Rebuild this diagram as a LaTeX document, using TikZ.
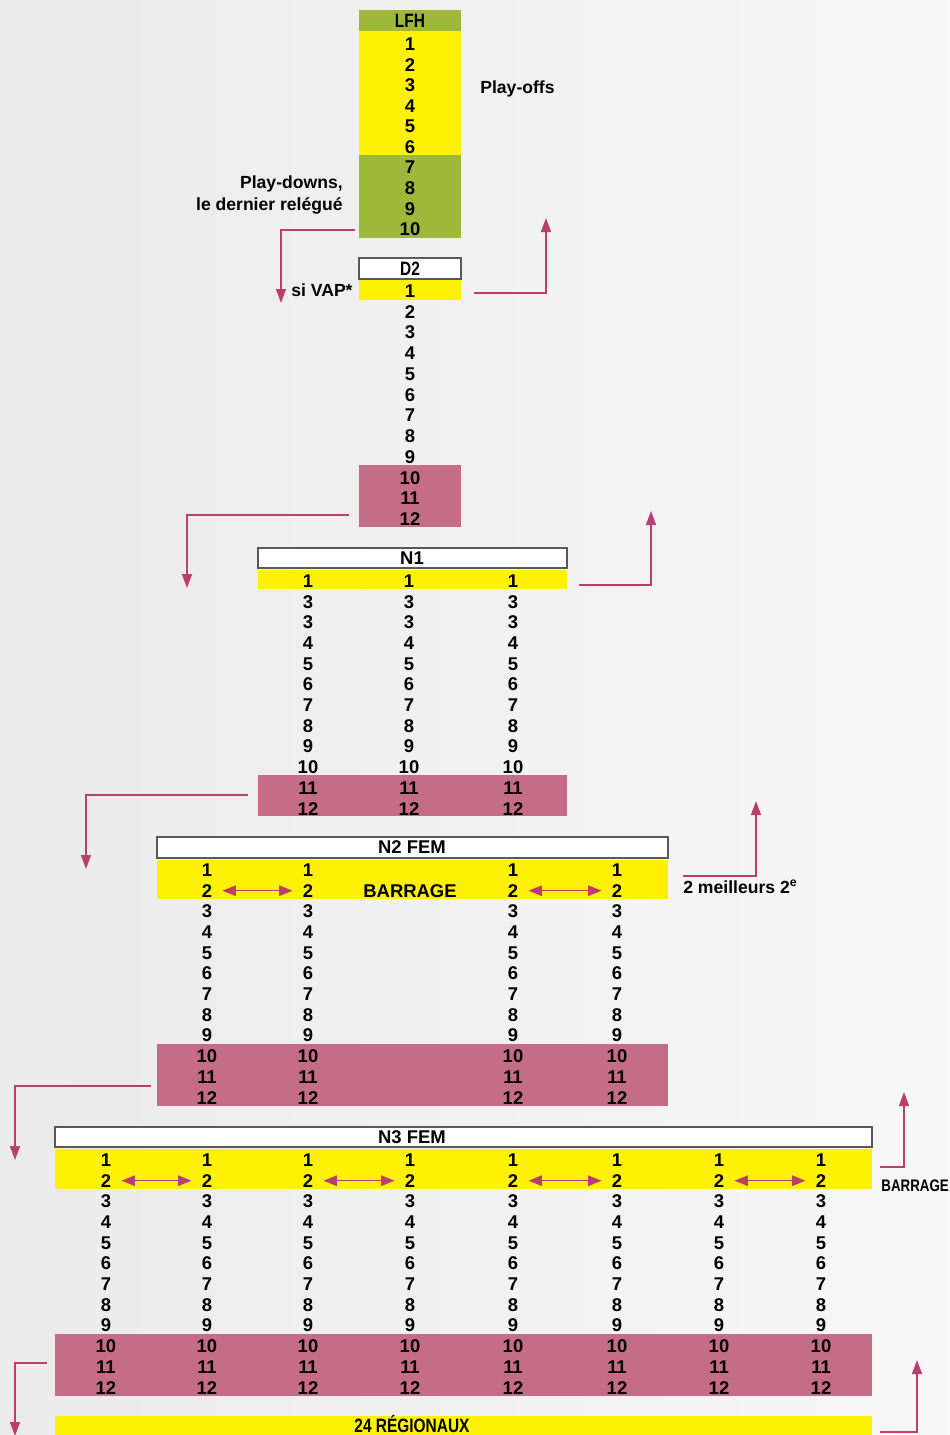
\documentclass[tikz,border=0pt]{standalone}
\usepackage{fontspec}
\setmainfont{Liberation Sans}
\newfontfamily\narrowfont[FakeStretch=0.8]{Liberation Sans}
\usetikzlibrary{arrows.meta}
\definecolor{lfhgreen}{RGB}{158,184,58}
\definecolor{rowyellow}{RGB}{255,242,0}
\definecolor{rowpink}{RGB}{197,108,134}
\definecolor{linkpink}{RGB}{186,62,112}
\tikzset{
  num/.style={font=\fontsize{10.5}{12}\selectfont\bfseries, inner sep=0pt},
  narrow/.style={font=\fontsize{11}{12}\selectfont\narrowfont\bfseries},
  note/.style={font=\fontsize{10}{12}\selectfont\bfseries, inner sep=0pt},
  headbox/.style={draw=black!65, fill=white, line width=0.6pt},
  move/.style={draw=linkpink, line width=0.8pt, -{Triangle[length=2.8mm, width=2mm]}},
  swap/.style={draw=linkpink, line width=0.8pt, {Triangle[length=2.7mm, width=2.1mm]}-{Triangle[length=2.7mm, width=2.1mm]}, shorten <=2mm, shorten >=2mm},
}
\begin{document}
\begin{tikzpicture}[x=0.2mm, y=-0.2mm]
    \shade[left color=black!8, right color=black!3] (0,0) rectangle (949,1435);
    \useasboundingbox (0,0) rectangle (949,1435);

    % LFH
    \fill[lfhgreen] (359,10) rectangle (461,31);
    \fill[rowyellow] (359,31) rectangle (461,155);
    \fill[lfhgreen] (359,155) rectangle (461,238);
    \node[num, narrow] (lfh) at (410,21) {LFH};
    \foreach \r in {1,...,10}
        \node[num] (lfh-\r) at (410,{44+(\r-1)*20.6}) {\r};
    \node[note, anchor=base west] (playoffs) at (480,93) {Play-offs};
    \node[note, anchor=base east, align=right] (playdowns) at (343,210) {Play-downs,\\le dernier relégué};

    % D2
    \draw[headbox] (359,258) rectangle (461,279);
    \fill[rowyellow] (359,280) rectangle (461,300);
    \fill[rowpink] (359,465) rectangle (461,527);
    \node[num, narrow] (d2) at (410,269) {D2};
    \foreach \r in {1,...,12}
        \node[num] (d2-\r) at (410,{291+(\r-1)*20.75}) {\r};
    \node[note, anchor=base west] (vap) at (291,296) {si VAP*};

    % N1
    \draw[headbox] (258,548) rectangle (567,568);
    \fill[rowyellow] (258,570) rectangle (567,589);
    \fill[rowpink] (258,775) rectangle (567,816);
    \node[num] (n1) at (412,558) {N1};
    \foreach \c [count=\j] in {308,409,513}
        \foreach \v [count=\r] in {1,3,3,4,5,6,7,8,9,10,11,12}
            \node[num] (n1-\j-\r) at (\c,{581+(\r-1)*20.7}) {\v};

    % N2 FEM
    \draw[headbox] (157,837) rectangle (668,858);
    \fill[rowyellow] (157,860) rectangle (668,899);
    \fill[rowpink] (157,1044) rectangle (668,1106);
    \node[num] (n2) at (412,847) {N2 FEM};
    \foreach \c [count=\j] in {207,308,513,617}
        \foreach \r in {1,...,12}
            \node[num] (n2-\j-\r) at (\c,{870+(\r-1)*20.7}) {\r};
    \node[num] (n2-barrage) at (410,891) {BARRAGE};
    \draw[swap] (n2-1-2) -- (n2-2-2);
    \draw[swap] (n2-3-2) -- (n2-4-2);
    \node[note, anchor=base west] (best) at (683,893) {2 meilleurs 2\textsuperscript{e}};

    % N3 FEM
    \draw[headbox] (55,1127) rectangle (872,1147);
    \fill[rowyellow] (55,1149) rectangle (872,1189);
    \fill[rowpink] (55,1334) rectangle (872,1396);
    \node[num] (n3) at (412,1137) {N3 FEM};
    \foreach \c [count=\j] in {106,207,308,410,513,617,719,821}
        \foreach \r in {1,...,12}
            \node[num] (n3-\j-\r) at (\c,{1160+(\r-1)*20.7}) {\r};
    \foreach \a/\b in {1/2,3/4,5/6,7/8}
        \draw[swap] (n3-\a-2) -- (n3-\b-2);
    \node[anchor=base west, inner sep=0pt, font=\fontsize{9.5}{11}\selectfont\narrowfont\bfseries] (n3-barrage) at (881,1191) {BARRAGE};

    % regionaux
    \fill[rowyellow] (55,1416) rectangle (872,1445);
    \node[num, narrow] (reg) at (412,1424) {24 RÉGIONAUX};

    % montees et descentes
    \coordinate (lfh-from) at (355,230);  \coordinate (lfh-to) at (281,303);
    \coordinate (d2-up)    at (474,293);  \coordinate (d2-upto) at (546,218);
    \coordinate (d2-from)  at (349,515);  \coordinate (d2-to)  at (187,588);
    \coordinate (n1-up)    at (579,585);  \coordinate (n1-upto) at (651,511);
    \coordinate (n1-from)  at (248,795);  \coordinate (n1-to)  at (86,869);
    \coordinate (n2-up)    at (683,876);  \coordinate (n2-upto) at (756,801);
    \coordinate (n2-from)  at (151,1086); \coordinate (n2-to)  at (15,1160);
    \coordinate (n3-up)    at (880,1167); \coordinate (n3-upto) at (904,1092);
    \coordinate (n3-from)  at (47,1363);  \coordinate (n3-to)  at (15,1436);
    \coordinate (reg-up)   at (880,1432); \coordinate (reg-upto) at (917,1360);

    \draw[move] (lfh-from) -| (lfh-to);
    \draw[move] (d2-up) -| (d2-upto);
    \draw[move] (d2-from) -| (d2-to);
    \draw[move] (n1-up) -| (n1-upto);
    \draw[move] (n1-from) -| (n1-to);
    \draw[move] (n2-up) -| (n2-upto);
    \draw[move] (n2-from) -| (n2-to);
    \draw[move] (n3-up) -| (n3-upto);
    \draw[move] (n3-from) -| (n3-to);
    \draw[move] (reg-up) -| (reg-upto);
\end{tikzpicture}
\end{document}
